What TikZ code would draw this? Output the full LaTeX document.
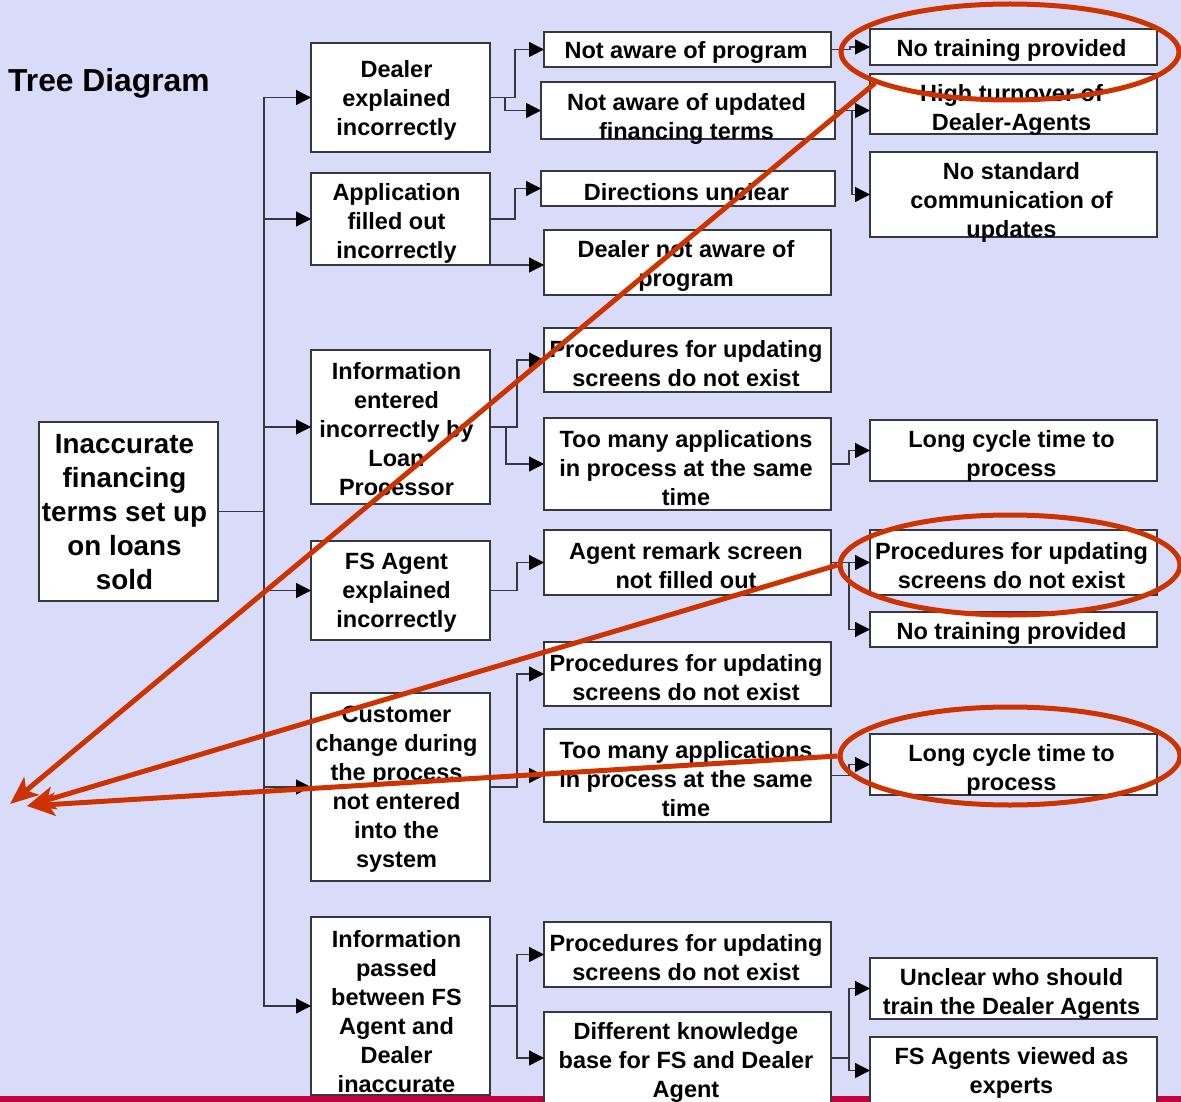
\documentclass[tikz,border=0pt]{standalone}
\usepackage{fontspec}
\setmainfont{Liberation Sans}
\usetikzlibrary{arrows.meta,shapes.geometric}

\definecolor{bgcol}{RGB}{217,220,248}
\definecolor{ringred}{RGB}{204,51,0}
\definecolor{barcol}{RGB}{196,0,64}
\definecolor{linecol}{RGB}{55,55,62}

% box: name, x1, y1, x2, y2, text offset (down), text
\newcommand\cbox[7]{%
  \node[cbx, minimum width={#4-#2}, minimum height={#5-#3},
        label={[cbtxt, txtcol, yshift={-(#6)-2.5}]center:{#7}}]
        (#1) at ({(#2+#4)/2},{(#3+#5)/2}) {};}

\begin{document}
\begin{tikzpicture}[x=1pt,y=-1pt,
  cbx/.style={draw=linecol, line width=1.3pt, fill=white, inner sep=0pt, outer sep=0pt},
  cbtxt/.style={inner sep=0pt, align=center, font=\bfseries\fontsize{23.5}{29}\selectfont},
  txtcol/.style={},
  roottxt/.style={inner sep=0pt, align=center, font=\bfseries\fontsize{27.8}{34}\selectfont},
  conn/.style={draw=linecol, line width=1.3pt, -{Triangle[length=15pt,width=15pt,fill=black,color=black]}},
  ring/.style={draw=ringred, line width=5pt, ellipse, inner sep=0pt},
  redarrow/.style={draw=ringred, line width=5pt, -{Stealth[length=28pt,width=23pt,inset=7pt]}}
]
\useasboundingbox (0,0) rectangle (1181,1102);
\clip (0,0) rectangle (1181,1102);
\fill[bgcol] (0,0) rectangle (1181,1102);
\fill[barcol] (0,1096) rectangle (1181,1102);

\node[anchor=base west, inner sep=0pt, font=\bfseries\fontsize{31.8}{36}\selectfont] (title) at (8,92) {Tree Diagram};

% root
\node[cbx, minimum width=179, minimum height=179,
      label={[roottxt, xshift=-4, yshift=-1]center:{Inaccurate\\financing\\terms set up\\on loans\\sold}}]
      (root) at (128.5,511.5) {};

% first level causes
\tikzset{txtcol/.style={xshift=-4}}
\cbox{a1}{311}{43}{490}{152}{0}{Dealer\\explained\\incorrectly}
\cbox{b1}{311}{173}{490}{265}{2}{Application\\filled out\\incorrectly}
\cbox{c1}{311}{350}{490}{504}{0}{Information\\entered\\incorrectly by\\Loan\\Processor}
\cbox{d1}{311}{541}{490}{640}{0}{FS Agent\\explained\\incorrectly}
\cbox{e1}{311}{693}{490}{881}{0}{Customer\\change during\\the process\\not entered\\into the\\system}
\cbox{f1}{311}{917}{490}{1095}{3}{Information\\passed\\between FS\\Agent and\\Dealer\\inaccurate}

% second level
\tikzset{txtcol/.style={xshift=-1.5}}
\cbox{a2}{544}{32}{831}{67}{0}{Not aware of program}
\cbox{b2}{541}{82}{835}{139}{6}{Not aware of updated\\financing terms}
\cbox{c2}{541}{171}{835}{206}{1.5}{Directions unclear}
\cbox{d2}{544}{230}{831}{295}{1}{Dealer not aware of\\program}
\cbox{e2}{544}{328}{831}{392}{1.5}{Procedures for updating\\screens do not exist}
\cbox{f2}{544}{418}{831}{510}{2}{Too many applications\\in process at the same\\time}
\cbox{g2}{544}{530}{831}{595}{1}{Agent remark screen\\not filled out}
\cbox{h2}{544}{642}{831}{706}{1.5}{Procedures for updating\\screens do not exist}
\cbox{i2}{544}{729}{831}{822}{1.5}{Too many applications\\in process at the same\\time}
\cbox{j2}{544}{922}{831}{987}{1}{Procedures for updating\\screens do not exist}
\cbox{k2}{544}{1012}{831}{1104}{2}{Different knowledge\\base for FS and Dealer\\Agent}

% third level
\tikzset{txtcol/.style={xshift=-2}}
\cbox{a3}{870}{29}{1157}{65}{1}{No training provided}
\cbox{b3}{870}{74}{1157}{134}{3.5}{High turnover of\\Dealer-Agents}
\cbox{c3}{870}{152}{1157}{237}{5.5}{No standard\\communication of\\updates}
\cbox{d3}{870}{420}{1157}{481}{3}{Long cycle time to\\process}
\cbox{e3}{870}{530}{1157}{595}{1}{Procedures for updating\\screens do not exist}
\cbox{f3}{870}{612}{1157}{647}{1.5}{No training provided}
\cbox{g3}{870}{734}{1157}{795}{3}{Long cycle time to\\process}
\cbox{h3}{870}{958}{1157}{1019}{3}{Unclear who should\\train the Dealer Agents}
\cbox{i3}{870}{1037}{1157}{1104}{0}{FS Agents viewed as\\experts}

% root to first level
\foreach \n in {a1,b1,c1,d1,e1,f1}
  \draw[conn] (root.east) -- ++(46,0) |- (\n.west);

% first to second level
\draw[conn] (a1.east) -- ++(25,0) |- (a2.west);
\draw[conn] (a1.east) -- ++(15,0) |- (b2.west);
\draw[conn] (b1.east) -- ++(25,0) |- (c2.west);
\draw[conn] (b1.south east) -- (d2.west |- b1.south east);
\draw[conn] (c1.east) -- ++(27,0) |- (e2.west);
\draw[conn] (c1.east) -- ++(16,0) |- (f2.west);
\draw[conn] (d1.east) -- ++(27,0) |- (g2.west);
\draw[conn] (e1.east) -- ++(27,0) |- (h2.west);
\draw[conn] (e1.east) -- ++(27,0) |- (i2.west);
\draw[conn] (f1.east) -- ++(27,0) |- (j2.west);
\draw[conn] (f1.east) -- ++(27,0) |- (k2.west);

% second to third level
\draw[conn] (a2.east) -- ++(19,0) |- (a3.west);
\draw[conn] (b2.east) -- (b3.west |- b2.east);
\draw[conn] (b2.east) -- ++(17,0) |- (c3.west);
\draw[conn] (f2.east) -- ++(18,0) |- (d3.west);
\draw[conn] (g2.east) -- (e3.west);
\draw[conn] (g2.east) -- ++(18,0) |- (f3.west);
\draw[conn] (i2.east) -- ++(18,0) |- (g3.west);
\draw[conn] (k2.east) -- ++(18,0) |- (h3.west);
\draw[conn] (k2.east) -- ++(18,0) |- (i3.west);

% highlighted causes
\node[ring, minimum width=338, minimum height=96] (r1) at (1010,52) {};
\node[ring, minimum width=340, minimum height=100] (r2) at (1010,565) {};
\node[ring, minimum width=340, minimum height=98] (r3) at (1010,756) {};

\coordinate (tipA) at (10,804);
\coordinate (tipB) at (27,806);
\draw[redarrow] (r1.193) -- (tipA);
\draw[redarrow] (r2.west) -- (tipB);
\draw[redarrow] (r3.west) -- (tipB);
\end{tikzpicture}
\end{document}
